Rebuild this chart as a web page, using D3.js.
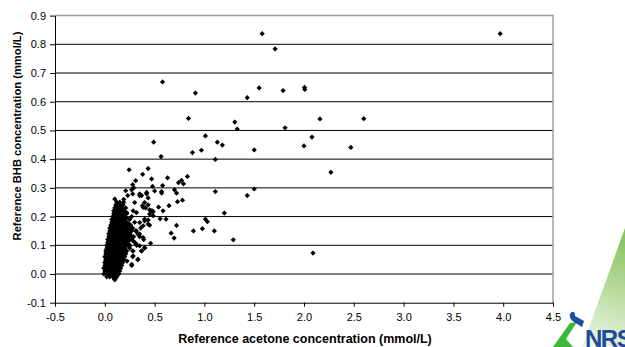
<!DOCTYPE html>
<html>
<head>
<meta charset="utf-8">
<script src="https://cdn.jsdelivr.net/npm/d3@7"></script>
<style>
  html, body { margin: 0; padding: 0; background: #fff; }
  svg { display: block; font-family: "Liberation Sans", Arial, sans-serif; }
</style>
</head>
<body>
<div id="chart"></div>
<script>
// tick values and labels
const xTicks = [-0.5, 0, 0.5, 1, 1.5, 2, 2.5, 3, 3.5, 4, 4.5];
const xTickLabels = ['-0.5', '0.0', '0.5', '1.0', '1.5', '2.0', '2.5', '3.0', '3.5', '4.0', '4.5'];
const yTicks = [-0.1, 0, 0.1, 0.2, 0.3, 0.4, 0.5, 0.6, 0.7, 0.8, 0.9];
const yTickLabels = ['-0.1', '0.0', '0.1', '0.2', '0.3', '0.4', '0.5', '0.6', '0.7', '0.8', '0.9'];

const xTitle = 'Reference acetone concentration (mmol/L)';
const yTitle = 'Reference BHB concentration (mmol/L)';

// [acetone, BHB] pairs
const sparsePoints = [
  [3.97, 0.837], [1.58, 0.837], [1.71, 0.784], [0.58, 0.669], [0.91, 0.630],
  [1.43, 0.614], [1.55, 0.648], [1.79, 0.639], [2.005, 0.650], [2.008, 0.643],
  [0.84, 0.542], [1.305, 0.529], [1.33, 0.505], [2.16, 0.540], [2.60, 0.541],
  [1.81, 0.509], [0.49, 0.459], [1.01, 0.481], [1.13, 0.459], [1.18, 0.449],
  [2.08, 0.477], [2.00, 0.446], [2.47, 0.441], [0.565, 0.409], [0.88, 0.423],
  [0.97, 0.431], [1.50, 0.432], [1.11, 0.399], [2.27, 0.354], [0.435, 0.367],
  [0.38, 0.347], [0.47, 0.331], [0.63, 0.335], [0.83, 0.340], [0.74, 0.318],
  [0.77, 0.326], [0.79, 0.314], [0.48, 0.305], [0.58, 0.308], [0.50, 0.289],
  [0.57, 0.287], [0.57, 0.282], [0.70, 0.293], [0.72, 0.282], [1.11, 0.287],
  [1.50, 0.296], [1.43, 0.273], [0.37, 0.273], [0.42, 0.279], [0.435, 0.265],
  [0.78, 0.257], [0.73, 0.252], [0.645, 0.238], [0.54, 0.233], [0.465, 0.220],
  [0.485, 0.217], [0.585, 0.220], [1.20, 0.212], [0.555, 0.192], [0.615, 0.191],
  [1.01, 0.191], [1.03, 0.182], [0.45, 0.170], [0.72, 0.169], [0.98, 0.158],
  [0.89, 0.150], [1.10, 0.150], [0.666, 0.142], [0.696, 0.125], [1.29, 0.119],
  [0.46, 0.107], [2.09, 0.073]
];

const midPoints = [
  [0.244, 0.363], [0.31, 0.325], [0.28, 0.311], [0.21, 0.29], [0.27, 0.293],
  [0.29, 0.30], [0.23, 0.273], [0.28, 0.279], [0.35, 0.279], [0.35, 0.273],
  [0.42, 0.284], [0.10, 0.261], [0.124, 0.246], [0.15, 0.238], [0.178, 0.241],
  [0.144, 0.23], [0.218, 0.214], [0.284, 0.22], [0.318, 0.214], [0.378, 0.238],
  [0.41, 0.23], [0.45, 0.223], [0.475, 0.22], [0.30, 0.249], [0.40, 0.249],
  [0.385, 0.232], [0.435, 0.241], [0.45, 0.209], [0.485, 0.203], [0.40, 0.185],
  [0.435, 0.188], [0.35, 0.179], [0.385, 0.168], [0.318, 0.150], [0.35, 0.139],
  [0.385, 0.127], [0.284, 0.115], [0.318, 0.104], [0.35, 0.098], [0.368, 0.08],
  [0.25, 0.098], [0.284, 0.08], [0.20, 0.069], [0.224, 0.045], [0.10, -0.019],
  [0.435, 0.174], [0.40, 0.191], [0.284, 0.063], [0.334, 0.051], [0.27, 0.034],
  [0.40, 0.092]
];

// dense group near the origin, one row per BHB level
const clusterRows = [
  [-0.02, [0.10]],
  [-0.01, [0.02, 0.05, 0.08, 0.12]],
  [-0.005, [0.035, 0.065, 0.095]],
  [0.00, [-0.01, 0.02, 0.04, 0.06, 0.09, 0.11, 0.14]],
  [0.005, [0.005, 0.03, 0.05, 0.075, 0.10, 0.125]],
  [0.01, [0.00, 0.02, 0.03, 0.05, 0.07, 0.09, 0.12, 0.15]],
  [0.015, [0.01, 0.035, 0.06, 0.085, 0.11, 0.135]],
  [0.02, [-0.01, 0.01, 0.03, 0.05, 0.07, 0.10, 0.13, 0.16]],
  [0.025, [0.005, 0.025, 0.045, 0.065, 0.085, 0.115, 0.145]],
  [0.03, [0.00, 0.02, 0.04, 0.06, 0.08, 0.11, 0.14, 0.17, 0.27]],
  [0.035, [0.01, 0.03, 0.05, 0.075, 0.10, 0.13, 0.16]],
  [0.04, [0.00, 0.02, 0.04, 0.06, 0.09, 0.12, 0.15, 0.18]],
  [0.045, [0.01, 0.035, 0.055, 0.08, 0.105, 0.135, 0.165]],
  [0.05, [0.01, 0.03, 0.05, 0.07, 0.10, 0.13, 0.16, 0.19, 0.33]],
  [0.055, [0.015, 0.04, 0.06, 0.09, 0.12, 0.15, 0.175]],
  [0.06, [0.00, 0.02, 0.04, 0.06, 0.08, 0.11, 0.14, 0.17, 0.20, 0.28]],
  [0.065, [0.015, 0.035, 0.065, 0.095, 0.125, 0.155, 0.185]],
  [0.07, [0.01, 0.03, 0.05, 0.08, 0.10, 0.13, 0.16, 0.19, 0.21]],
  [0.075, [0.02, 0.045, 0.07, 0.095, 0.12, 0.145, 0.175, 0.20]],
  [0.08, [0.01, 0.03, 0.06, 0.09, 0.12, 0.15, 0.18, 0.22, 0.28, 0.37]],
  [0.085, [0.02, 0.05, 0.075, 0.105, 0.135, 0.165, 0.195]],
  [0.09, [0.02, 0.04, 0.07, 0.10, 0.13, 0.16, 0.20, 0.25, 0.40]],
  [0.095, [0.03, 0.06, 0.09, 0.12, 0.15, 0.18, 0.21]],
  [0.10, [0.02, 0.05, 0.08, 0.11, 0.14, 0.18, 0.22, 0.25, 0.32]],
  [0.105, [0.035, 0.065, 0.095, 0.125, 0.16, 0.20, 0.235]],
  [0.11, [0.03, 0.05, 0.08, 0.11, 0.14, 0.17, 0.21, 0.30]],
  [0.115, [0.04, 0.07, 0.10, 0.13, 0.16, 0.19, 0.24]],
  [0.12, [0.03, 0.06, 0.09, 0.12, 0.15, 0.19, 0.23, 0.27, 0.39]],
  [0.125, [0.045, 0.075, 0.105, 0.14, 0.17, 0.21, 0.25]],
  [0.13, [0.04, 0.07, 0.10, 0.13, 0.16, 0.20, 0.24, 0.29, 0.35]],
  [0.135, [0.05, 0.085, 0.115, 0.15, 0.18, 0.22, 0.26]],
  [0.14, [0.04, 0.07, 0.10, 0.13, 0.17, 0.21, 0.25, 0.33]],
  [0.145, [0.055, 0.09, 0.12, 0.155, 0.19, 0.23]],
  [0.15, [0.05, 0.08, 0.11, 0.14, 0.18, 0.22, 0.27, 0.31]],
  [0.155, [0.065, 0.095, 0.13, 0.165, 0.20, 0.25]],
  [0.16, [0.05, 0.08, 0.12, 0.15, 0.19, 0.24, 0.28, 0.36]],
  [0.165, [0.07, 0.10, 0.14, 0.175, 0.22]],
  [0.17, [0.06, 0.09, 0.12, 0.16, 0.20, 0.26]],
  [0.175, [0.075, 0.11, 0.15, 0.19, 0.24]],
  [0.18, [0.07, 0.10, 0.14, 0.18, 0.22, 0.30]],
  [0.185, [0.085, 0.12, 0.16, 0.20]],
  [0.19, [0.07, 0.11, 0.15, 0.19, 0.25]],
  [0.195, [0.09, 0.13, 0.175, 0.22]],
  [0.20, [0.08, 0.12, 0.16, 0.20, 0.27]],
  [0.205, [0.10, 0.145, 0.19]],
  [0.21, [0.09, 0.13, 0.17, 0.22]],
  [0.215, [0.105, 0.15, 0.20]],
  [0.22, [0.09, 0.12, 0.15, 0.19]],
  [0.225, [0.11, 0.155]],
  [0.23, [0.10, 0.13, 0.17, 0.21]],
  [0.235, [0.12, 0.16]],
  [0.24, [0.11, 0.14, 0.18]],
  [0.25, [0.12, 0.15, 0.19]],
  [0.26, [0.19]]
];

const width = 625;
const height = 347;
const plot = { left: 55, right: 553, top: 15.6, bottom: 302.7 };

const svg = d3.select('#chart')
  .append('svg')
  .attr('width', width)
  .attr('height', height);

const x = d3.scaleLinear()
  .domain([-0.5, 4.5])
  .range([plot.left, plot.right]);

const y = d3.scaleLinear()
  .domain([-0.1, 0.9])
  .range([plot.bottom, plot.top]);

// logo background triangle
const defs = svg.append('defs');
const grad = defs.append('linearGradient')
  .attr('id', 'logoGrad')
  .attr('gradientUnits', 'userSpaceOnUse')
  .attr('x1', 625).attr('y1', 235)
  .attr('x2', 590).attr('y2', 347);
grad.append('stop').attr('offset', '0%').attr('stop-color', '#86c25a');
grad.append('stop').attr('offset', '100%').attr('stop-color', '#eef6e8');

svg.append('path')
  .attr('d', 'M625,228L582,347L625,347Z')
  .attr('fill', 'url(#logoGrad)');

// gridlines
svg.append('g')
  .selectAll('line')
  .data(yTicks.filter(d => d > -0.1 && d < 0.9))
  .enter()
  .append('line')
  .attr('x1', plot.left)
  .attr('x2', plot.right)
  .attr('y1', d => y(d))
  .attr('y2', d => y(d))
  .attr('stroke', '#000')
  .attr('stroke-width', 1);

// top and right border
svg.append('path')
  .attr('d', `M${plot.left},${y(0.9)}H${plot.right}V${plot.bottom}`)
  .attr('fill', 'none')
  .attr('stroke', '#a0a0a0')
  .attr('stroke-width', 1.5);

// points
const clusterPoints = [];
clusterRows.forEach(r => r[1].forEach(v => clusterPoints.push([v, r[0]])));
const allPoints = clusterPoints.concat(midPoints, sparsePoints);

svg.append('g')
  .selectAll('path')
  .data(allPoints)
  .enter()
  .append('path')
  .attr('transform', d => 'translate(' + x(d[0]) + ',' + y(d[1]) + ')')
  .attr('d', 'M0,-2.6L2.6,0L0,2.6L-2.6,0Z')
  .attr('fill', '#000');

// axes
const yAxis = svg.append('g')
  .attr('transform', 'translate(' + plot.left + ',0)')
  .call(d3.axisLeft(y)
    .tickValues(yTicks)
    .tickSize(5)
    .tickSizeOuter(0)
    .tickPadding(4)
    .tickFormat((d, i) => yTickLabels[i]));

const xAxis = svg.append('g')
  .attr('transform', 'translate(0,' + plot.bottom + ')')
  .call(d3.axisBottom(x)
    .tickValues(xTicks)
    .tickSize(4)
    .tickSizeOuter(0)
    .tickPadding(7)
    .tickFormat((d, i) => xTickLabels[i]));

[xAxis, yAxis].forEach(a => {
  a.selectAll('text')
    .style('font-family', '"Liberation Sans", Arial, sans-serif')
    .style('font-size', '11px')
    .attr('fill', '#000');
  a.select('.domain').attr('stroke', '#000');
  a.selectAll('.tick line').attr('stroke', '#000');
});

// axis titles
svg.append('text')
  .attr('x', 305)
  .attr('y', 343.3)
  .attr('text-anchor', 'middle')
  .style('font-size', '12.5px')
  .style('font-weight', 'bold')
  .text(xTitle);

svg.append('text')
  .attr('transform', 'translate(20.5,136) rotate(-90)')
  .attr('text-anchor', 'middle')
  .style('font-size', '11.2px')
  .style('font-weight', 'bold')
  .text(yTitle);

// logo
svg.append('path')
  .attr('d', 'M553,347L570,323L577,322L566,339L573,347Z')
  .attr('fill', '#3cb83a');
svg.append('path')
  .attr('d', 'M570,314C572,310 576,312 575,316L584,321L582,327L574,322C571,320 569,317 570,314Z')
  .attr('fill', '#1d4fa3');

svg.append('text')
  .attr('x', 585)
  .attr('y', 347)
  .style('font-size', '24px')
  .style('font-weight', 'bold')
  .style('letter-spacing', '-1.5px')
  .attr('fill', '#1f4a9c')
  .text('NRS');
</script>
</body>
</html>
